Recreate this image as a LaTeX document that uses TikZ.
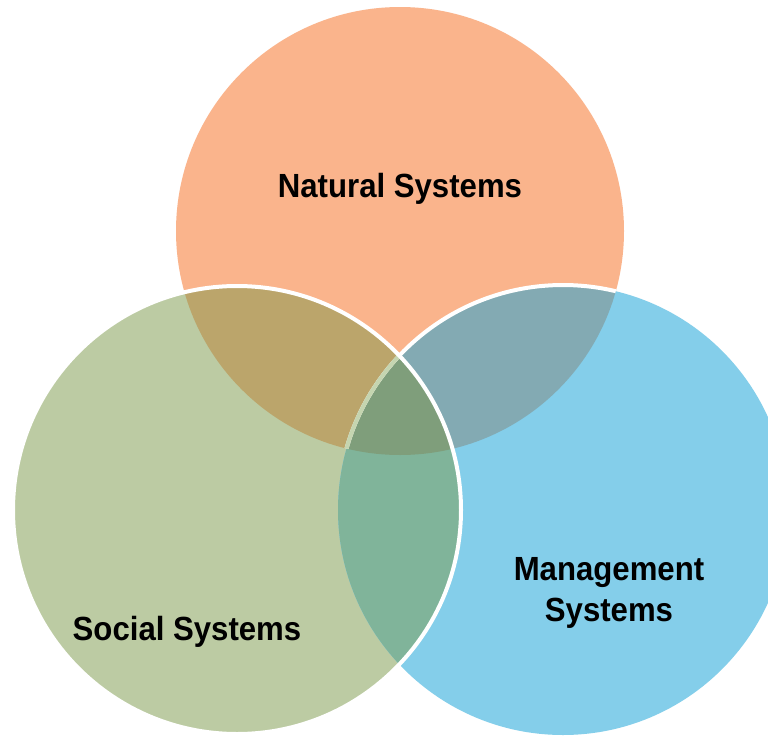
\documentclass[tikz,border=0pt]{standalone}
\usepackage{fontspec}
\setmainfont{Liberation Sans}
\newfontfamily\labfont{Liberation Sans}[FakeStretch=0.93]
\definecolor{cOr}{HTML}{FAB48C}
\definecolor{cGr}{HTML}{BCCBA3}
\definecolor{cBl}{HTML}{84CEEA}
\definecolor{cOG}{HTML}{BBA56B}
\definecolor{cOB}{HTML}{83AAB3}
\definecolor{cGB}{HTML}{80B49A}
\definecolor{cAll}{HTML}{7F9E7B}
\definecolor{cPale}{HTML}{C5D5B0}
\tikzset{
  label/.style={font=\labfont\fontsize{33.5}{40}\selectfont\bfseries, text=black, inner sep=0pt, anchor=base},
  rim/.style={draw=white, line width=4pt}
}
\begin{document}
\begin{tikzpicture}[x=1pt,y=-1pt]
\useasboundingbox (0,0) rectangle (768,736);
\clip (0,0) rectangle (768,736);
\fill[white] (0,0) rectangle (768,736);
\coordinate (cO) at (400,231);
\coordinate (cG) at (237,510);
\coordinate (cB) at (563,510);
\def\rO{224}\def\rG{224}\def\rB{225}
% base fills
\fill[cOr] (cO) circle[radius=\rO];
\fill[cGr] (cG) circle[radius=\rG];
\fill[cBl] (cB) circle[radius=\rB];
% pairwise overlaps
\begin{scope}\clip (cO) circle[radius=\rO]; \fill[cOG] (cG) circle[radius=\rG];\end{scope}
\begin{scope}\clip (cO) circle[radius=\rO]; \fill[cOB] (cB) circle[radius=\rB];\end{scope}
\begin{scope}\clip (cG) circle[radius=\rG]; \fill[cGB] (cB) circle[radius=\rB];\end{scope}
\begin{scope}\clip (cO) circle[radius=\rO]; \clip (cG) circle[radius=\rG]; \fill[cAll] (cB) circle[radius=\rB];\end{scope}
% outlines
\begin{scope}\clip (cO) circle[radius=\rO]; \draw[rim] (cB) circle[radius=\rB];\end{scope}
\begin{scope}\clip (cO) circle[radius=\rO]; \clip (cG) circle[radius=\rG]; \draw[rim,draw=cPale] (cB) circle[radius=\rB];\end{scope}
\draw[rim] (cG) circle[radius=\rG];
% labels
\node[label] (nat) at (400,197) {Natural Systems};
\node[label] (soc) at (187,640) {Social Systems};
\node[label] (man1) at (609,580) {Management};
\node[label] (man2) at (609,621) {Systems};
\end{tikzpicture}
\end{document}
